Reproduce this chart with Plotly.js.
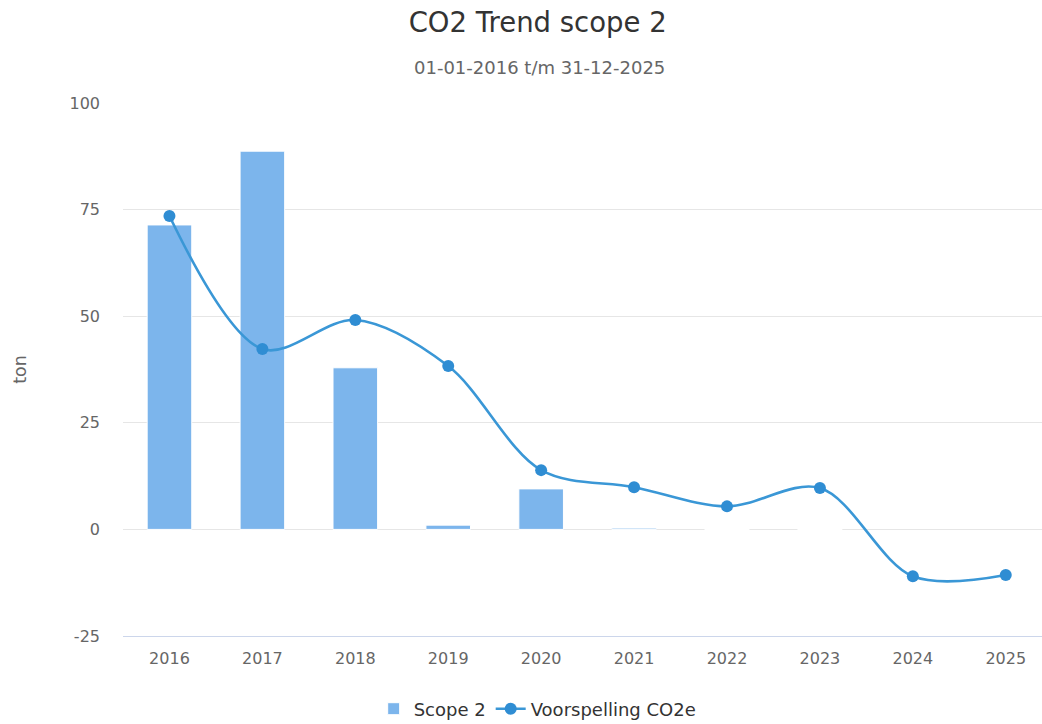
<!DOCTYPE html>
<html>
<head>
<meta charset="utf-8">
<script src="https://cdn.plot.ly/plotly-3.0.1.min.js"></script>
<style>html,body{margin:0;padding:0;background:#fff;}#chart{width:1042px;height:724px;}</style>
</head>
<body>
<div id="chart"></div>
<script>
var years = ['2016','2017','2018','2019','2020','2021','2022','2023','2024','2025'];
var scope2 = [71.4, 88.7, 37.9, 1.0, 9.5, 0.3, 0, 0, null, null];
var voorspelling = [73.5, 42.3, 49.1, 38.3, 13.9, 9.9, 5.4, 9.7, -11.0, -10.7];
var yTicks = [-25, 0, 25, 50, 75, 100];

var font = 'DejaVu Sans, sans-serif';

var traces = [
  {
    type: 'bar', name: 'Scope 2', x: years, y: scope2,
    width: 0.48,
    marker: {color: '#7cb5ec', line: {color: '#ffffff', width: 1}},
    hoverinfo: 'x+y'
  },
  {
    type: 'scatter', mode: 'lines+markers', name: 'Voorspelling CO2e',
    x: years, y: voorspelling,
    line: {color: '#3a97d6', width: 2.6, shape: 'spline', smoothing: 0.95},
    marker: {color: '#2f8dd3', size: 12}
  }
];

var layout = {
  width: 1042, height: 724,
  paper_bgcolor: '#ffffff', plot_bgcolor: '#ffffff',
  margin: {l: 123, r: 0, t: 103, b: 88},
  font: {family: font, color: '#666666', size: 16},
  title: {
    text: 'CO2 Trend scope 2',
    font: {family: font, size: 27.5, color: '#333333'},
    x: 0.516, xref: 'container', xanchor: 'center',
    y: 1 - 22/724, yref: 'container', yanchor: 'middle'
  },
  annotations: [{
    text: '01-01-2016 t/m 31-12-2025',
    xref: 'paper', yref: 'paper',
    x: (539 - 123) / 919, y: (636 - 68) / 533, xanchor: 'center', yanchor: 'middle',
    showarrow: false,
    font: {family: font, size: 18, color: '#666666'}
  }],
  xaxis: {
    type: 'category',
    range: [-0.5, 9.39],
    showgrid: false, zeroline: false,
    showline: true, linecolor: '#ccd6eb', linewidth: 1,
    ticks: '', tickfont: {size: 16, color: '#666666'},
    ticklabelstandoff: 8,
    fixedrange: true
  },
  yaxis: {
    range: [-25, 100],
    tickvals: yTicks, ticktext: yTicks.map(String),
    showgrid: true, gridcolor: '#e6e6e6', gridwidth: 1,
    zeroline: true, zerolinecolor: '#e6e6e6', zerolinewidth: 1,
    showline: false, ticks: '',
    tickfont: {size: 16, color: '#666666'},
    ticklabelstandoff: 22,
    title: {text: 'ton', font: {size: 17.5, color: '#666666'}, standoff: 38},
    fixedrange: true
  },
  showlegend: true,
  legend: {
    orientation: 'h',
    xref: 'container', yref: 'container',
    x: 0.516, xanchor: 'center',
    y: 15/724, yanchor: 'middle',
    font: {size: 18, color: '#333333'},
    itemwidth: 30,
    traceorder: 'normal'
  },
  bargap: 0.5
};

Plotly.newPlot('chart', traces, layout, {displayModeBar: false, staticPlot: true});
</script>
</body>
</html>
